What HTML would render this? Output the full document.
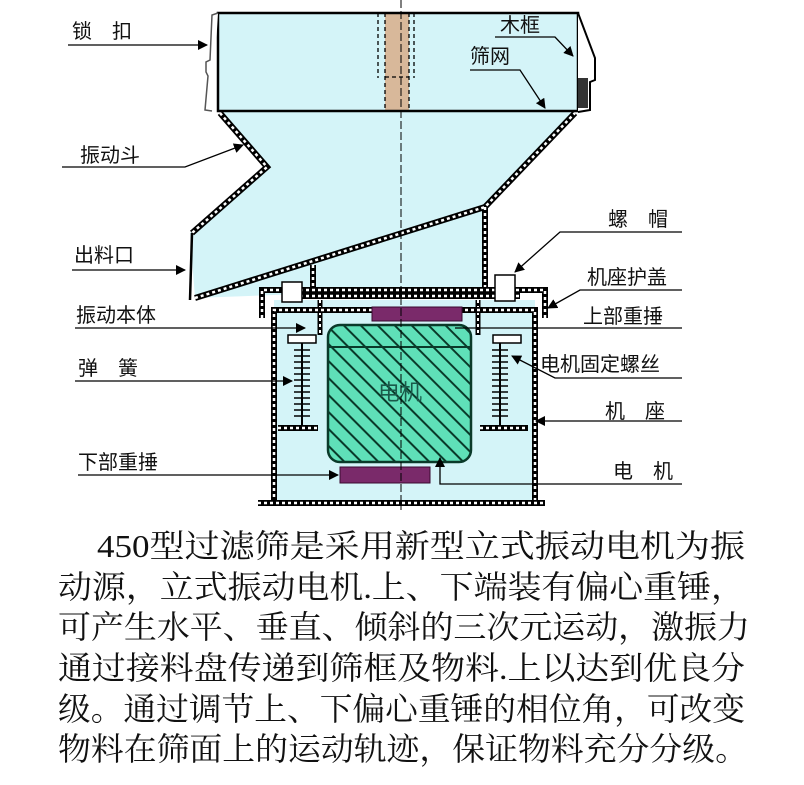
<!DOCTYPE html>
<html><head><meta charset="utf-8"><style>
html,body{margin:0;padding:0;background:#fff;}
svg{display:block;}
.lb{font-family:"Liberation Sans","Noto Sans CJK SC",sans-serif;font-size:20px;fill:#111;}
.tx{font-family:"Liberation Serif","Noto Serif CJK SC",serif;font-size:32px;fill:#111;}
</style></head><body>
<svg width="804" height="785" viewBox="0 0 804 785" xmlns="http://www.w3.org/2000/svg">
<defs>
<marker id="ar" markerWidth="10" markerHeight="10" refX="9" refY="5" orient="auto" markerUnits="userSpaceOnUse" viewBox="0 0 10 10">
<path d="M0,0 L10,5 L0,10 z" fill="#000"/></marker>
<pattern id="hatch" width="12" height="12" patternUnits="userSpaceOnUse" patternTransform="rotate(-45)">
<rect width="12" height="12" fill="#5fe0b8"/><rect width="2" height="12" fill="#0a3a2a"/></pattern>
</defs>
<rect x="218" y="13" width="360" height="98" fill="#d4f4f8"/>
<polygon points="220,111 575,111 485,207 485,287 195,298 190,233 267,167" fill="#d4f4f8"/>
<rect x="274" y="300" width="261" height="203" fill="#d4f4f8"/>
<rect x="385" y="13" width="24" height="98" fill="#d8b89a"/>
<g stroke="#000" stroke-width="1.3" stroke-dasharray="4 3" fill="none">
<line x1="378" y1="13" x2="378" y2="78"/><line x1="414" y1="13" x2="414" y2="78"/>
<line x1="385" y1="13" x2="385" y2="111"/><line x1="409" y1="13" x2="409" y2="111"/>
<line x1="385" y1="77" x2="409" y2="77"/>
</g>
<rect x="218" y="13" width="360" height="98" fill="none" stroke="#000" stroke-width="2.5"/>
<path d="M218,13 L212,15 L210,60 L206,62 L206,72 L208,76 L205,110 L212,111" fill="#fff" stroke="#555" stroke-width="1.5"/>
<path d="M578,13 L595,58 L595,80 L590,82 L590,110 L578,112" fill="#fff" stroke="#000" stroke-width="2"/>
<rect x="578" y="78" width="10" height="30" fill="#333"/>
<g fill="none">
<path d="M220,113 L267,167 L192,233 M195,298 L485,207 L575,113 M485,207 L485,287 M313,265 L313,287" stroke="#000" stroke-width="6"/>
<path d="M220,113 L267,167 L192,233 M195,298 L485,207 L575,113 M485,207 L485,287 M313,265 L313,287" stroke="#fff" stroke-width="2.5" stroke-dasharray="3 3"/>
<path d="M192,233 L190,300" stroke="#000" stroke-width="2.5"/>
</g>
<g fill="none">
<path d="M262,318 L262,290 L545,290 L545,318 M282,296 L520,296" stroke="#000" stroke-width="6"/>
<path d="M262,318 L262,290 L545,290 L545,318 M282,296 L520,296" stroke="#fff" stroke-width="2.5" stroke-dasharray="3 3"/>
<path d="M320,300 L320,335 M478,300 L478,335" stroke="#000" stroke-width="5"/>
<path d="M320,300 L320,335 M478,300 L478,335" stroke="#fff" stroke-width="2" stroke-dasharray="3 3"/>
</g>
<g stroke="#000" stroke-width="1.5" fill="#fff">
<rect x="282" y="282" width="20" height="20"/><rect x="495" y="275" width="20" height="26"/>
</g>
<g fill="none">
<path d="M274,503 L274,310 L535,310 L535,503" stroke="#000" stroke-width="6"/>
<path d="M274,503 L274,310 L535,310 L535,503" stroke="#fff" stroke-width="2.5" stroke-dasharray="3 3"/>
<path d="M258,503 L545,503 M278,428 L318,428 M480,428 L528,428" stroke="#000" stroke-width="6"/>
<path d="M258,503 L545,503 M278,428 L318,428 M480,428 L528,428" stroke="#fff" stroke-width="2.5" stroke-dasharray="3 3"/>
</g>
<g stroke="#000" stroke-width="1.5" fill="#fff">
<rect x="288" y="335" width="28" height="8"/><rect x="493" y="335" width="28" height="8"/>
</g>
<g stroke="#000" stroke-width="2">
<line x1="302" y1="343" x2="302" y2="425"/><line x1="500" y1="343" x2="500" y2="425"/>
</g>
<g stroke="#000" stroke-width="1.5">
<path d="M294,350h16M294,356h16M294,362h16M294,368h16M294,374h16M294,380h16M294,386h16M294,392h16M294,398h16M294,404h16M294,410h16M294,416h16"/>
<path d="M492,350h16M492,356h16M492,362h16M492,368h16M492,374h16M492,380h16M492,386h16M492,392h16M492,398h16M492,404h16M492,410h16M492,416h16"/>
</g>
<rect x="328" y="325" width="143" height="137" rx="12" fill="url(#hatch)" stroke="#0a3a2a" stroke-width="2.5"/>
<line x1="328" y1="347" x2="471" y2="347" stroke="#0a3a2a" stroke-width="2"/>
<text x="378" y="400" style="font-family:'Liberation Sans','Noto Sans CJK SC',sans-serif;font-size:22px;fill:#1a5a4a">电机</text>
<rect x="372" y="307" width="90" height="14" fill="#7a2a6a" stroke="#3a0a30"/>
<rect x="340" y="467" width="90" height="16" fill="#7a2a6a" stroke="#3a0a30"/>
<line x1="401" y1="0" x2="401" y2="510" stroke="#000" stroke-width="1" stroke-dasharray="8 3"/>
<g stroke="#000" stroke-width="1.3" fill="none" marker-end="url(#ar)">
<path d="M68,45 L207,45"/>
<path d="M62,167 L185,167 L243,145"/>
<path d="M72,270 L185,270"/>
<path d="M75,328 L305,328"/>
<path d="M75,381 L292,381"/>
<path d="M78,475 L338,475"/>
<path d="M495,37 L555,37 L573,56"/>
<path d="M470,70 L520,70 L545,108"/>
<path d="M682,232 L560,232 L515,272"/>
<path d="M682,290 L580,290 L548,308"/>
<path d="M682,378 L555,378 L512,356"/>
<path d="M682,421 L536,421"/>
<path d="M682,484 L440,484 L440,458"/>
</g>
<line x1="455" y1="328" x2="682" y2="328" stroke="#000" stroke-width="1.3"/>
<text class="lb" x="72" y="38">锁　扣</text>
<text class="lb" x="80" y="162">振动斗</text>
<text class="lb" x="74" y="262">出料口</text>
<text class="lb" x="76" y="322">振动本体</text>
<text class="lb" x="78" y="375">弹　簧</text>
<text class="lb" x="78" y="469">下部重捶</text>
<text class="lb" x="500" y="32">木框</text>
<text class="lb" x="470" y="63">筛网</text>
<text class="lb" x="608" y="226">螺　帽</text>
<text class="lb" x="587" y="284">机座护盖</text>
<text class="lb" x="583" y="323">上部重捶</text>
<text class="lb" x="540" y="371">电机固定螺丝</text>
<text class="lb" x="605" y="418">机　座</text>
<text class="lb" x="613" y="478">电　机</text>
<text class="tx" x="97" y="557" textLength="648" lengthAdjust="spacingAndGlyphs">450型过滤筛是采用新型立式振动电机为振</text>
<text class="tx" x="58" y="598" textLength="687" lengthAdjust="spacingAndGlyphs">动源，立式振动电机.上、下端装有偏心重锤，</text>
<text class="tx" x="58" y="638" textLength="692" lengthAdjust="spacingAndGlyphs">可产生水平、垂直、倾斜的三次元运动，激振力</text>
<text class="tx" x="58" y="679" textLength="687" lengthAdjust="spacingAndGlyphs">通过接料盘传递到筛框及物料.上以达到优良分</text>
<text class="tx" x="58" y="720" textLength="687" lengthAdjust="spacingAndGlyphs">级。通过调节上、下偏心重锤的相位角，可改变</text>
<text class="tx" x="58" y="760" textLength="690" lengthAdjust="spacingAndGlyphs">物料在筛面上的运动轨迹，保证物料充分分级。</text>
</svg>
</body></html>
